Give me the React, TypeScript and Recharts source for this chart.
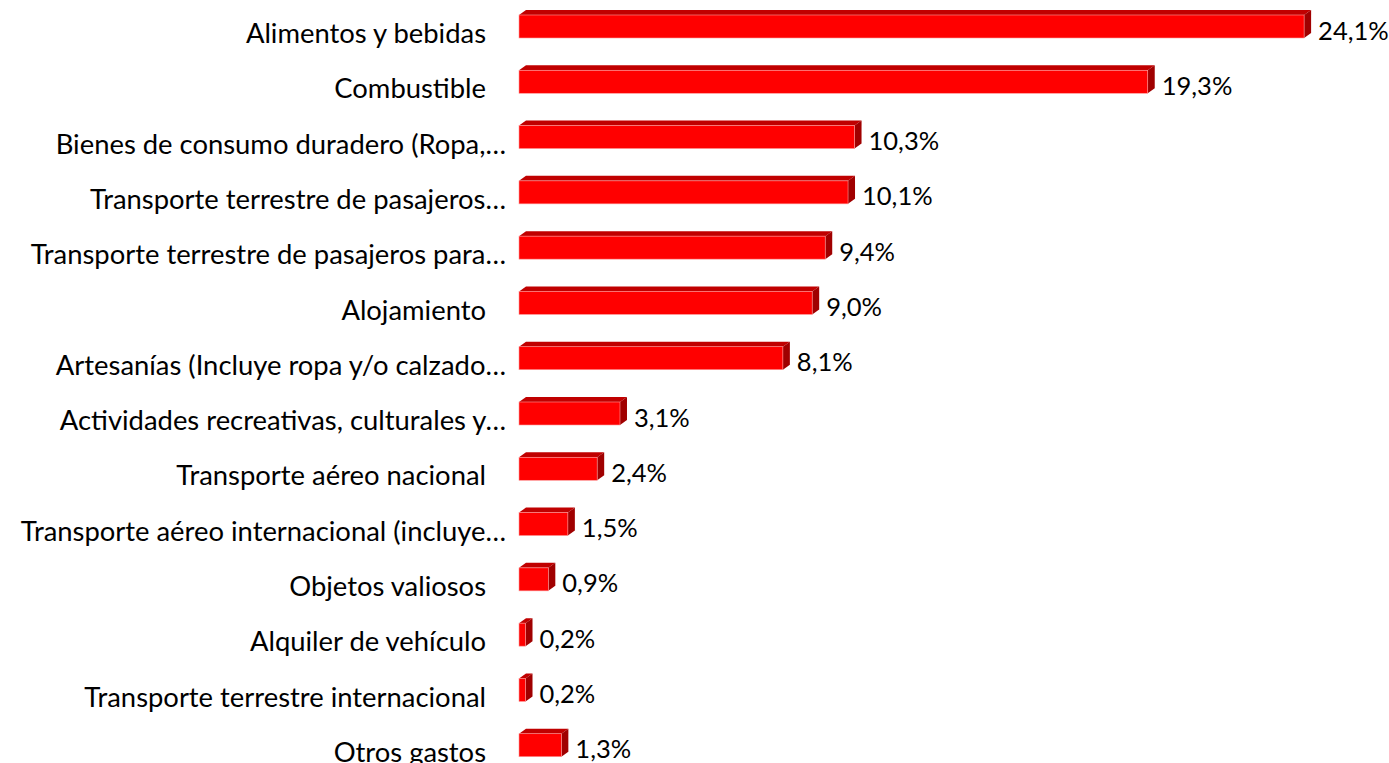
import React from "react";
import { BarChart, Bar, XAxis, YAxis, LabelList } from "recharts";

const categories = [
  "Alimentos y bebidas",
  "Combustible",
  "Bienes de consumo duradero (Ropa,…",
  "Transporte terrestre de pasajeros…",
  "Transporte terrestre de pasajeros para…",
  "Alojamiento",
  "Artesanías (Incluye ropa y/o calzado…",
  "Actividades recreativas, culturales y…",
  "Transporte aéreo nacional",
  "Transporte aéreo internacional (incluye…",
  "Objetos valiosos",
  "Alquiler de vehículo",
  "Transporte terrestre internacional",
  "Otros gastos",
];

const values = [24.1, 19.3, 10.3, 10.1, 9.4, 9.0, 8.1, 3.1, 2.4, 1.5, 0.9, 0.2, 0.2, 1.3];

const data = categories.map((name, i) => ({ name, value: values[i] }));

const FONT = "Lato, 'Open Sans', sans-serif";
const FONT_SIZE = 27.4;
const VALUE_FONT_SIZE = 25.5;

const DX = 7;
const DY = 5;
const LIFT = 6;

const Bar3D = (props: any) => {
  const { x, y, width, height } = props;
  const fy = y - LIFT;
  const w = Math.max(width, 0);
  return (
    <g>
      <polygon
        points={`${x},${fy} ${x + DX},${fy - DY} ${x + w + DX},${fy - DY} ${x + w},${fy}`}
        fill="#C00000"
      />
      <polygon
        points={`${x + w},${fy} ${x + w + DX},${fy - DY} ${x + w + DX},${fy + height - DY} ${x + w},${fy + height}`}
        fill="#A00000"
      />
      <rect x={x} y={fy} width={w} height={height} fill="#FF0000" stroke="#FF9A9A" strokeWidth={0.6} />
    </g>
  );
};

const CategoryTick = (props: any) => {
  const { x, y, payload } = props;
  const label: string = payload.value;
  const truncated = label.endsWith("…");
  return (
    <text
      x={truncated ? x - 5 : x - 25}
      y={y}
      textAnchor="end"
      dominantBaseline="central"
      fontFamily={FONT}
      fontSize={FONT_SIZE}
      fill="#000"
    >
      {label}
    </text>
  );
};

const ValueLabel = (props: any) => {
  const { x, y, width, height, value } = props;
  return (
    <text
      x={x + width + 14}
      y={y + height / 2 - 3}
      dominantBaseline="central"
      fontFamily={FONT}
      fontSize={VALUE_FONT_SIZE}
      fill="#000"
    >
      {`${Number(value).toFixed(1).replace(".", ",")}%`}
    </text>
  );
};

export default function App() {
  return (
    <div style={{ position: "absolute", left: 0, top: 0, width: 1389, height: 763, overflow: "hidden", background: "#fff" }}>
      <BarChart
        width={1389}
        height={779}
        data={data}
        layout="vertical"
        margin={{ top: 5, right: 23, bottom: 0, left: 0 }}
        barCategoryGap={0}
      >
        <XAxis type="number" domain={[0, 26]} hide />
        <YAxis
          type="category"
          dataKey="name"
          width={519}
          axisLine={false}
          tickLine={false}
          tick={<CategoryTick />}
          interval={0}
        />
        <Bar dataKey="value" barSize={23} shape={<Bar3D />} isAnimationActive={false}>
          <LabelList dataKey="value" content={<ValueLabel />} />
        </Bar>
      </BarChart>
    </div>
  );
}
